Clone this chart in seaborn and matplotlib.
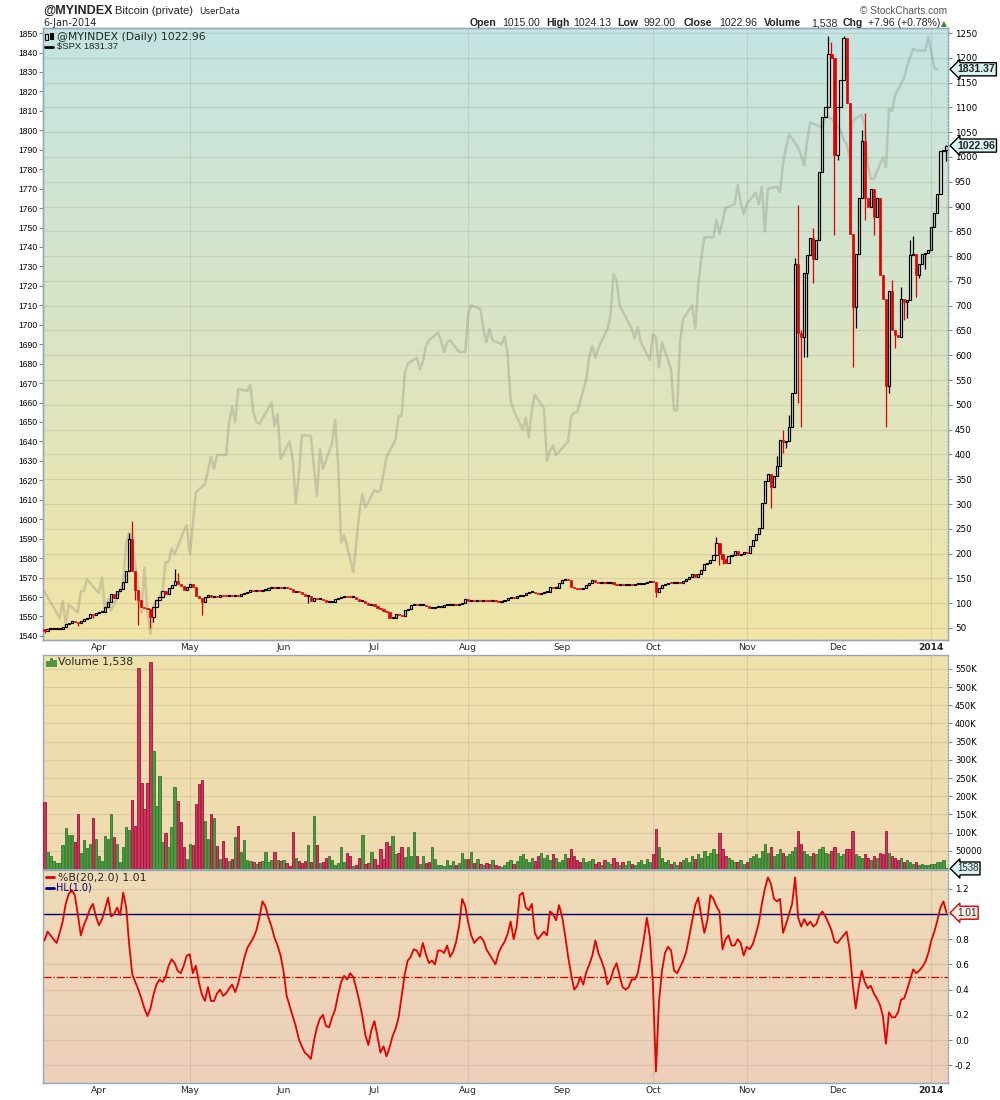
import matplotlib
matplotlib.use("Agg")
import matplotlib.pyplot as plt
import matplotlib.transforms as mtransforms
from matplotlib.lines import Line2D
from matplotlib.patches import Rectangle
import numpy as np
import pandas as pd
import seaborn as sns

# ---- Bitcoin daily closes (first bar 14-Mar-2013) ----
btc_close = [
    44, 47, 47, 47, 47, 47, 52, 57, 60, 65,
    62, 60, 65, 68, 71, 78, 76, 80, 82, 82,
    92, 103, 118, 110, 125, 128, 142, 165, 230, 165,
    127, 106, 93, 90, 88, 73, 93, 107, 113, 124,
    118, 130, 136, 145, 138, 135, 127, 132, 138, 133,
    115, 110, 103, 113, 117, 113, 114, 112, 116, 115,
    114, 116, 115, 117, 115, 118, 120, 123, 126, 125,
    126, 125, 126, 127, 130, 131, 130, 132, 131, 132,
    131, 128, 123, 124, 122, 118, 115, 115, 104, 110,
    108, 108, 107, 103, 103, 103, 108, 111, 112, 115,
    113, 112, 112, 108, 105, 105, 100, 96, 98, 94,
    90, 88, 85, 82, 70, 71, 78, 76, 75, 87,
    88, 96, 98, 96, 96, 97, 95, 90, 91, 92,
    92, 93, 96, 96, 97, 97, 96, 98, 101, 108,
    105, 106, 105, 106, 105, 106, 105, 104, 105, 104,
    103, 104, 106, 110, 113, 110, 114, 115, 117, 120,
    123, 123, 121, 119, 121, 122, 122, 132, 130, 130,
    140, 147, 148, 146, 133, 130, 129, 128, 130, 137,
    140, 146, 143, 141, 142, 141, 141, 142, 138, 137,
    137, 136, 137, 137, 136, 138, 139, 139, 140, 143,
    143, 142, 123, 130, 137, 139, 141, 140, 141, 141,
    140, 144, 148, 152, 159, 153, 159, 166, 178, 181,
    188, 198, 222, 200, 190, 180, 196, 198, 205, 198,
    200, 203, 201, 215, 228, 240, 252, 302, 346, 360,
    335, 357, 377, 430, 426, 428, 455, 524, 785, 644,
    637, 765, 802, 836, 795, 832, 970, 1081, 1101, 1208,
    1200, 1004, 1101, 1155, 1240, 1108, 845, 697, 805, 918,
    1032, 918, 900, 936, 878, 918, 761, 714, 539, 730,
    651, 641, 637, 714, 708, 712, 802, 805, 761, 785,
    805, 807, 812, 859, 886, 926, 1013, 1015, 1022.96,
]
btc_first_open = 48
btc_wick_high = {28: 241, 29: 266, 43: 168, 44: 160, 222: 234, 242: 396, 244: 449,
                 246: 480, 248: 796, 249: 903, 250: 650, 254: 856, 259: 1243, 260: 1232,
                 264: 1243, 265: 1232, 270: 1054, 271: 1089, 280: 752, 283: 738,
                 286: 833, 287: 840, 298: 1024.13}
btc_wick_low = {0: 40, 11: 53, 16: 70, 30: 106, 31: 55, 35: 50, 36: 62, 52: 76, 87: 100,
                202: 112, 223: 176, 224: 178, 240: 291, 244: 402, 245: 412, 249: 503,
                250: 456, 251: 596, 252: 597, 254: 745, 261: 843, 262: 994, 267: 577,
                268: 654, 271: 873, 274: 843, 278: 456, 279: 523, 281: 614, 284: 671,
                285: 675, 288: 718, 289: 755, 291: 775, 295: 913, 298: 992}

# volume in thousands
btc_volume_k = [
    183, 48, 37, 21, 16, 16, 65, 112, 93, 93,
    73, 150, 43, 79, 57, 70, 139, 82, 37, 22,
    90, 82, 150, 87, 68, 19, 60, 115, 106, 189,
    117, 551, 235, 164, 235, 568, 323, 172, 255, 73,
    98, 60, 115, 224, 186, 128, 60, 27, 70, 65,
    178, 233, 244, 131, 83, 150, 139, 62, 27, 76,
    29, 21, 27, 87, 117, 46, 79, 24, 21, 18,
    13, 18, 21, 48, 18, 24, 46, 24, 21, 24,
    16, 7, 101, 29, 21, 16, 21, 65, 18, 147,
    65, 16, 18, 29, 35, 24, 10, 16, 60, 18,
    43, 37, 7, 10, 29, 93, 13, 16, 48, 27,
    10, 54, 27, 73, 62, 90, 40, 43, 60, 32,
    60, 35, 101, 35, 13, 35, 16, 18, 60, 27,
    10, 10, 7, 24, 10, 21, 10, 16, 43, 27,
    27, 46, 16, 27, 13, 10, 16, 13, 24, 10,
    7, 5, 12, 20, 25, 15, 22, 35, 40, 28,
    18, 30, 22, 35, 45, 30, 38, 25, 42, 30,
    20, 25, 40, 30, 55, 35, 25, 20, 30, 18,
    22, 28, 15, 20, 12, 25, 18, 15, 30, 20,
    12, 18, 10, 22, 15, 12, 20, 25, 15, 28,
    20, 40, 110, 60, 30, 20, 25, 15, 20, 12,
    18, 25, 30, 20, 35, 28, 40, 30, 50, 35,
    45, 55, 40, 100, 55, 35, 30, 25, 20, 18,
    25, 15, 20, 30, 35, 40, 30, 50, 70, 45,
    60, 35, 40, 55, 45, 35, 40, 50, 60, 105,
    70, 50, 40, 35, 45, 40, 55, 60, 45, 40,
    50, 60, 45, 35, 40, 55, 55, 105, 40, 35,
    30, 40, 30, 25, 35, 30, 45, 40, 105, 45,
    35, 30, 25, 30, 20, 25, 18, 15, 20, 12,
    15, 10, 12, 14, 15, 18, 20, 25, 1.538,
]

# %B(20,2.0)
pct_b = [
    0.79, 0.86, 0.83, 0.80, 0.77, 0.85, 0.94, 1.08, 1.16, 1.19,
    1.15, 1.00, 0.83, 0.91, 0.97, 1.04, 1.08, 0.98, 0.91, 0.96,
    1.04, 1.13, 0.98, 1.00, 1.05, 0.99, 1.17, 1.05, 0.75, 0.52,
    0.46, 0.40, 0.33, 0.25, 0.19, 0.25, 0.36, 0.44, 0.48, 0.46,
    0.50, 0.59, 0.64, 0.61, 0.55, 0.53, 0.59, 0.67, 0.68, 0.53,
    0.59, 0.46, 0.36, 0.31, 0.42, 0.31, 0.31, 0.37, 0.40, 0.35,
    0.37, 0.41, 0.44, 0.38, 0.45, 0.55, 0.65, 0.73, 0.77, 0.81,
    0.87, 0.97, 1.10, 1.06, 0.97, 0.90, 0.81, 0.75, 0.67, 0.54,
    0.35, 0.27, 0.19, 0.11, 0.01, -0.05, -0.10, -0.12, -0.15, -0.01,
    0.10, 0.17, 0.20, 0.11, 0.10, 0.18, 0.24, 0.36, 0.46, 0.51,
    0.48, 0.53, 0.50, 0.41, 0.31, 0.19, 0.04, -0.04, 0.08, 0.15,
    0.03, -0.10, -0.05, -0.13, -0.06, 0.03, 0.09, 0.18, 0.35, 0.52,
    0.63, 0.66, 0.72, 0.71, 0.66, 0.77, 0.68, 0.61, 0.63, 0.60,
    0.71, 0.71, 0.69, 0.75, 0.66, 0.70, 0.78, 0.91, 1.12, 1.06,
    0.93, 0.83, 0.77, 0.80, 0.82, 0.79, 0.72, 0.68, 0.64, 0.60,
    0.69, 0.74, 0.78, 0.84, 0.94, 0.80, 0.90, 1.15, 1.17, 1.05,
    1.03, 1.08, 0.85, 0.80, 0.83, 0.86, 0.83, 1.02, 1.00, 0.95,
    1.07, 0.98, 0.83, 0.66, 0.52, 0.40, 0.43, 0.50, 0.44, 0.54,
    0.60, 0.67, 0.79, 0.69, 0.63, 0.56, 0.44, 0.48, 0.56, 0.61,
    0.51, 0.42, 0.40, 0.42, 0.48, 0.48, 0.53, 0.66, 0.80, 0.97,
    0.82, 0.45, -0.25, 0.30, 0.55, 0.69, 0.74, 0.71, 0.55, 0.53,
    0.58, 0.63, 0.70, 0.82, 0.95, 1.07, 1.13, 0.98, 0.85, 0.95,
    1.15, 1.12, 1.06, 1.02, 0.72, 0.80, 0.83, 0.75, 0.75, 0.80,
    0.77, 0.67, 0.74, 0.72, 0.76, 0.84, 0.93, 1.08, 1.20, 1.29,
    1.24, 1.12, 1.10, 1.12, 0.85, 0.92, 1.00, 1.08, 1.29, 0.97,
    0.90, 0.96, 0.91, 0.94, 0.90, 0.92, 0.99, 1.02, 0.98, 0.93,
    0.87, 0.78, 0.77, 0.80, 0.83, 0.86, 0.72, 0.45, 0.25, 0.42,
    0.55, 0.46, 0.41, 0.43, 0.37, 0.33, 0.28, 0.19, -0.03, 0.22,
    0.18, 0.18, 0.22, 0.32, 0.33, 0.40, 0.48, 0.56, 0.53, 0.55,
    0.58, 0.62, 0.69, 0.79, 0.86, 0.95, 1.05, 1.10, 1.01,
]

# $SPX closes, one per trading day 14-Mar-2013 .. 3-Jan-2014
spx_close = [
    1563, 1560, 1552, 1549, 1558, 1546, 1556, 1552, 1563, 1563, 1569,
    1562, 1570, 1553, 1559, 1553, 1563, 1568, 1588, 1593, 1588, 1552, 1575, 1552, 1541,
    1555, 1563, 1578, 1578, 1585, 1582, 1594, 1597,
    1582, 1597, 1614, 1618, 1625, 1632, 1626, 1633, 1633, 1650, 1658, 1650, 1667, 1666,
    1669, 1655, 1650, 1649, 1660, 1648, 1654, 1631,
    1640, 1631, 1608, 1622, 1643, 1643, 1627, 1612, 1636, 1626, 1639, 1651, 1629, 1588,
    1592, 1573, 1588, 1603, 1613, 1606,
    1615, 1614, 1615, 1632, 1641, 1653, 1653, 1675, 1680, 1683, 1677, 1681, 1689, 1692,
    1696, 1692, 1686, 1691, 1692, 1686, 1686, 1686,
    1706, 1710, 1708, 1698, 1691, 1698, 1692, 1690, 1694, 1685, 1661, 1656, 1646, 1652,
    1642, 1656, 1664, 1657, 1630, 1635, 1638, 1633,
    1640, 1653, 1655, 1655, 1672, 1684, 1689, 1683, 1688, 1698, 1705, 1726, 1723, 1710,
    1701, 1698, 1693, 1699, 1691, 1682,
    1695, 1694, 1678, 1691, 1677, 1656, 1656, 1692, 1703, 1710, 1698, 1721, 1734, 1745,
    1745, 1754, 1747, 1753, 1760, 1762, 1772, 1763, 1757,
    1762, 1768, 1762, 1771, 1748, 1770, 1771, 1768, 1783, 1791, 1798, 1791, 1787, 1782,
    1795, 1804, 1802, 1802, 1807, 1806,
    1800, 1795, 1793, 1786, 1805, 1808, 1802, 1782, 1775, 1775, 1786, 1781, 1811, 1810,
    1818, 1827, 1833, 1842, 1841, 1841, 1848,
    1832, 1831.37,
]
spx_holidays = ["2013-03-29", "2013-05-27", "2013-07-04", "2013-09-02",
                "2013-11-28", "2013-12-25", "2014-01-01"]

month_starts = ["2013-04-01", "2013-05-01", "2013-06-01", "2013-07-01", "2013-08-01",
                "2013-09-01", "2013-10-01", "2013-11-01", "2013-12-01", "2014-01-01"]
month_labels = ["Apr", "May", "Jun", "Jul", "Aug", "Sep", "Oct", "Nov", "Dec", "2014"]
grid_months = ["2013-05-01", "2013-08-01", "2013-10-01", "2013-11-01", "2014-01-01"]

sns.set_style("white")
plt.rcParams["font.family"] = ["DejaVu Sans"]

dates = pd.date_range("2013-03-14", periods=len(btc_close), freq="D")
x = np.arange(len(dates))
close = np.array(btc_close, dtype=float)
opn = np.r_[btc_first_open, close[:-1]]
hi = np.maximum(opn, close)
lo = np.minimum(opn, close)
for i, v in btc_wick_high.items():
    hi[i] = max(hi[i], v)
for i, v in btc_wick_low.items():
    lo[i] = min(lo[i], v)
up = close >= opn

spx_dates = pd.bdate_range("2013-03-14", "2014-01-03").difference(pd.to_datetime(spx_holidays))
spx_x = dates.get_indexer(spx_dates[:len(spx_close)])
month_x = dates.get_indexer(pd.to_datetime(month_starts))
grid_x = dates.get_indexer(pd.to_datetime(grid_months))

fig = plt.figure(figsize=(10, 11), dpi=100)


def rect(top, bottom, left=43, right=948):
    return [left / 1000, 1 - bottom / 1100, (right - left) / 1000, (bottom - top) / 1100]


def ftext(px, py, s, va="center", **kw):
    fig.text(px / 1000, 1 - py / 1100, s, va=va, **kw)


def gradient(ax, top, bottom):
    t = np.linspace(0, 1, 256)[:, None]
    img = (np.array(top) * (1 - t) + np.array(bottom) * t) / 255
    ax.imshow(img[:, None, :], extent=[0, 1, 0, 1], transform=ax.transAxes,
              aspect="auto", zorder=-10, interpolation="bilinear")


ax_spx = fig.add_axes(rect(28, 640))
ax_btc = ax_spx.twinx()
ax_vol = fig.add_axes(rect(655, 869))
ax_b = fig.add_axes(rect(870, 1083))

gradient(ax_spx, (196, 228, 227), (241, 229, 166))
gradient(ax_vol, (240, 226, 170), (239, 218, 178))
gradient(ax_b, (239, 220, 182), (236, 206, 187))

grid_kw = dict(color="#7a7a70", alpha=0.18, lw=0.8, zorder=1)

# ---- price panel ----
sns.lineplot(x=spx_x, y=spx_close, ax=ax_spx, color="#85857a", alpha=0.32,
             linewidth=1.8, legend=False)
for v in range(50, 1251, 50):
    ax_btc.axhline(v, **grid_kw)
for gx in grid_x:
    ax_btc.axvline(gx, **grid_kw)

body_lo = np.minimum(opn, close)
body_h = np.maximum(np.abs(close - opn), 2.0)
body_hi = body_lo + body_h
wick_col = np.where(up, "black", "#e00000")
ax_btc.vlines(x, lo, body_lo, colors=wick_col, lw=0.9, zorder=3)
ax_btc.vlines(x, body_hi, hi, colors=wick_col, lw=0.9, zorder=3)
ax_btc.bar(x[up], body_h[up], bottom=body_lo[up], width=0.72, facecolor="none",
           edgecolor="black", linewidth=0.85, zorder=4)
ax_btc.bar(x[~up], body_h[~up], bottom=body_lo[~up], width=0.72, color="#e00000",
           edgecolor="#e00000", linewidth=0.5, zorder=4)

# ---- volume panel ----
for v in range(50, 551, 50):
    ax_vol.axhline(v, **grid_kw)
for gx in grid_x:
    ax_vol.axvline(gx, **grid_kw)
ax_vol.bar(x, btc_volume_k, width=0.78,
           color=np.where(up, "#4f9a3f", "#c8385c"),
           edgecolor=np.where(up, "#2f7a2c", "#a8103c"), linewidth=0.6, zorder=3)

# ---- %B panel ----
for v in np.arange(-0.2, 1.21, 0.2):
    ax_b.axhline(v, **grid_kw)
for gx in grid_x:
    ax_b.axvline(gx, **grid_kw)
ax_b.axhline(0.5, color="#d00000", ls="-.", lw=0.9, zorder=2)
ax_b.axhline(1.0, color="#000070", lw=1.0, zorder=2)
sns.lineplot(x=x, y=pct_b, ax=ax_b, color="#e60000", linewidth=1.3, legend=False, zorder=4)

# ---- limits & axes ----
for ax in (ax_spx, ax_vol, ax_b):
    ax.set_xlim(-0.5, len(x) - 0.5)
ax_spx.set_ylim(1537.9, 1852.6)
ax_btc.set_ylim(25.7, 1260.1)
ax_vol.set_ylim(0, 588)
ax_b.set_ylim(-0.341, 1.349)

spine_col = "#93aab6"
tick_kw = dict(direction="out", length=3, width=0.8, color="#6f8fa0", labelcolor="black")

ax_spx.set_yticks(range(1540, 1851, 10))
ax_spx.tick_params(axis="y", labelsize=6.2, pad=1, **tick_kw)
for t in ax_spx.get_yticklabels():
    t.set_fontfamily("Liberation Sans")

ax_btc.set_yticks(range(50, 1251, 50))
ax_btc.tick_params(axis="y", labelsize=6.3, pad=2, **tick_kw)

vol_ticks = list(range(50, 551, 50))
ax_vol.yaxis.tick_right()
ax_vol.set_yticks(vol_ticks)
ax_vol.set_yticklabels(["50000"] + [f"{v}K" for v in vol_ticks[1:]])
ax_vol.tick_params(axis="y", labelsize=6.1, pad=2, **tick_kw)

b_ticks = [-0.2, 0.0, 0.2, 0.4, 0.6, 0.8, 1.0, 1.2]
ax_b.yaxis.tick_right()
ax_b.set_yticks(b_ticks)
ax_b.set_yticklabels(["" if v == 1.0 else f"{v:.1f}" for v in b_ticks])
ax_b.tick_params(axis="y", labelsize=6.3, pad=2, **tick_kw)

for ax in (ax_spx, ax_b):
    ax.set_xticks(month_x)
    ax.set_xticklabels(month_labels)
    ax.tick_params(axis="x", length=0, labelsize=6.6, pad=2.5)
    ax.get_xticklabels()[-1].set_fontweight("bold")
ax_vol.set_xticks([])

for ax in (ax_spx, ax_btc, ax_vol, ax_b):
    for sp in ax.spines.values():
        sp.set_color(spine_col)
        sp.set_linewidth(1.0)
    ax.spines["right"].set_linestyle((0, (1, 1.5)))
ax_spx.spines["bottom"].set_linestyle((0, (1, 1.5)))
ax_spx.set_ylabel("")
ax_btc.set_ylabel("")
ax_b.set_ylabel("")


# ---- value tags on the right ----
def tag(ax, y, text, fc, ec, bold=False, size=7.2):
    tr = mtransforms.blended_transform_factory(ax.transAxes, ax.transData)
    ax.text(1.010, y, text, transform=tr, ha="left", va="center", fontsize=size,
            family="Liberation Sans", fontweight="bold" if bold else "normal",
            bbox=dict(boxstyle="larrow,pad=0.15", fc=fc, ec=ec, lw=1.0),
            clip_on=False, zorder=20)


tag(ax_spx, spx_close[-1], f"{spx_close[-1]:.2f}", "#d6f2f2", "black", bold=True, size=7.6)
tag(ax_btc, btc_close[-1], f"{btc_close[-1]:.2f}", "#d6f2f2", "black", bold=True, size=7.6)
tag(ax_vol, btc_volume_k[-1], f"{btc_volume_k[-1] * 1000:.0f}", "#d6f2f2", "black", size=7)
tag(ax_b, pct_b[-1], f"{pct_b[-1]:.2f}", "#fbeee4", "#e00000", size=7.2)

# ---- header ----
ftext(43, 14, "@MYINDEX", va="baseline", fontsize=9, fontweight="bold", family="Liberation Sans")
ftext(115, 14, "Bitcoin (private)", va="baseline", fontsize=8, family="Liberation Sans")
ftext(199, 14, "UserData", va="baseline", fontsize=6.3)
ftext(43, 26, "6-Jan-2014", va="baseline", fontsize=7)
ftext(860, 14, "\u00a9 StockCharts.com", va="baseline", fontsize=7.3, color="#555555",
      family="Liberation Sans")
header = [(470, "Open", True), (502, "1015.00", False), (546, "High", True),
          (573, "1024.13", False), (617, "Low", True), (644, "992.00", False),
          (684, "Close", True), (719, "1022.96", False), (764, "Volume", True),
          (811, "1,538", False), (843, "Chg", True), (868, "+7.96 (+0.78%)", False)]
for px, s, b in header:
    ftext(px, 26.5, s, va="baseline", fontsize=7.6, fontweight="bold" if b else "normal",
          family="Liberation Sans")
ftext(941, 26.5, "\u25b2", va="baseline", fontsize=5.5, color="#2e8b2e")

# ---- panel legends ----
fig.add_artist(Rectangle((45 / 1000, 1 - 40 / 1100), 3 / 1000, 6 / 1100, fill=False, ec="black", lw=0.8))
fig.add_artist(Rectangle((50 / 1000, 1 - 39 / 1100), 3 / 1000, 6 / 1100, fc="black", ec="black", lw=0.8))
ftext(57, 36.5, "@MYINDEX (Daily) 1022.96", fontsize=7.8)
fig.add_artist(Line2D([45 / 1000, 53 / 1000], [1 - 46.5 / 1100] * 2, color="black", lw=2))
ftext(57, 46.5, "$SPX 1831.37", fontsize=6.8, family="Liberation Sans")

for bx, bh in [(46, 5), (49.5, 8), (53, 6)]:
    fig.add_artist(Rectangle((bx / 1000, 1 - 666 / 1100), 2.5 / 1000, bh / 1100,
                             fc="#4f9a3f", ec="#2f7a2c", lw=0.5))
ftext(58, 662, "Volume 1,538", fontsize=7.8)

fig.add_artist(Line2D([46 / 1000, 54 / 1000], [1 - 877 / 1100] * 2, color="#e00000", lw=2))
ftext(58, 877, "%B(20,2.0) 1.01", fontsize=7.8)
fig.add_artist(Line2D([46 / 1000, 54 / 1000], [1 - 887.5 / 1100] * 2, color="#000080", lw=2))
ftext(56, 887.5, "HL(1.0)", fontsize=7, color="#000080")

fig.savefig("out.png", dpi=100)
